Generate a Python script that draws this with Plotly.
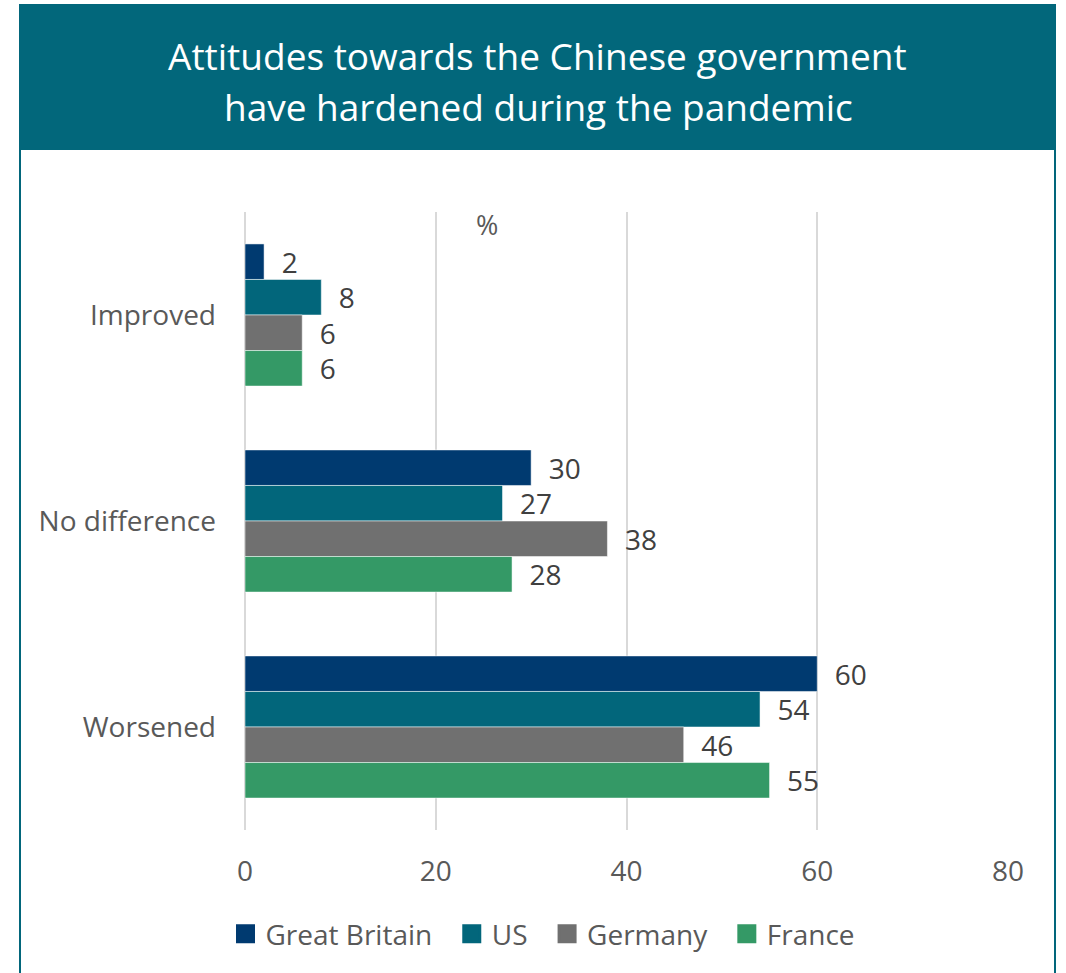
import plotly.graph_objects as go

# Survey responses (%)
categories = ["Improved", "No difference", "Worsened"]
countries = ["Great Britain", "US", "Germany", "France"]
great_britain = [2, 30, 60]
us = [8, 27, 54]
germany = [6, 38, 46]
france = [6, 28, 55]
x_ticks = [0, 20, 40, 60, 80]

series = [great_britain, us, germany, france]
colors = ["#003a70", "#02667b", "#707070", "#349966"]

W, H = 1066, 973
FONT = "Open Sans"
NBSP = "\u00a0"

fig = go.Figure()
for name, vals, col in zip(countries, series, colors):
    fig.add_trace(go.Bar(
        y=categories, x=vals, name=name, orientation="h", showlegend=False,
        marker=dict(color=col, line=dict(color="rgba(255,255,255,0.5)", width=1)),
        text=vals, texttemplate=NBSP * 2 + "%{x}", textposition="outside",
        textfont=dict(family=FONT, size=28, color="#404040"),
        constraintext="none", cliponaxis=False,
    ))
    # square legend swatch
    fig.add_trace(go.Scatter(
        x=[None], y=[None], mode="markers", name=name + NBSP * 2,
        marker=dict(symbol="square", size=16, color=col, line=dict(color=col, width=3)),
    ))


def px_x(p):
    return p / W


def px_y(p):
    return 1 - p / H


fig.update_layout(
    template="none",
    width=W, height=H,
    margin=dict(l=0, r=0, t=0, b=0, pad=0, autoexpand=False),
    paper_bgcolor="white", plot_bgcolor="white",
    barmode="group", bargap=0.31, bargroupgap=0,
    font=dict(family=FONT, color="#595959"),
    showlegend=True,
    legend=dict(orientation="h", x=px_x(550), y=px_y(934), xanchor="center", yanchor="middle",
                font=dict(family=FONT, size=28, color="#595959"),
                itemsizing="trace", itemwidth=30, tracegroupgap=0),
    xaxis=dict(domain=[px_x(245), px_x(1008)], range=[0, 80], tickvals=x_ticks,
               automargin=False,
               showgrid=True, gridcolor="#d9d9d9", gridwidth=2,
               zeroline=True, zerolinecolor="#d9d9d9", zerolinewidth=2,
               showline=False, ticks="", ticklabelstandoff=22,
               tickfont=dict(family=FONT, size=28, color="#595959")),
    yaxis=dict(domain=[px_y(830), px_y(212)], autorange="reversed",
               automargin=False,
               showgrid=False, zeroline=False, showline=False, ticks="",
               ticklabelstandoff=28,
               tickfont=dict(family=FONT, size=28, color="#595959")),
    shapes=[
        dict(type="rect", xref="paper", yref="paper",
             x0=px_x(20), x1=px_x(1055), y0=px_y(1000), y1=px_y(5),
             line=dict(color="#02667b", width=2), fillcolor="rgba(0,0,0,0)", layer="below"),
        dict(type="rect", xref="paper", yref="paper",
             x0=px_x(20), x1=px_x(1055), y0=px_y(150), y1=px_y(5),
             line=dict(width=0), fillcolor="#02677b", layer="below"),
    ],
    annotations=[
        dict(text="Attitudes towards the Chinese government",
             xref="paper", yref="paper", x=px_x(537), y=px_y(55), xanchor="center", yanchor="middle",
             showarrow=False, font=dict(family=FONT, size=37, color="white")),
        dict(text="have hardened during the pandemic",
             xref="paper", yref="paper", x=px_x(538), y=px_y(106), xanchor="center", yanchor="middle",
             showarrow=False, font=dict(family=FONT, size=37, color="white")),
        dict(text="%", xref="paper", yref="paper", x=px_x(487), y=px_y(225),
             xanchor="center", yanchor="middle", showarrow=False,
             font=dict(family=FONT, size=27, color="#595959")),
    ],
)

fig.write_html("out.html")
